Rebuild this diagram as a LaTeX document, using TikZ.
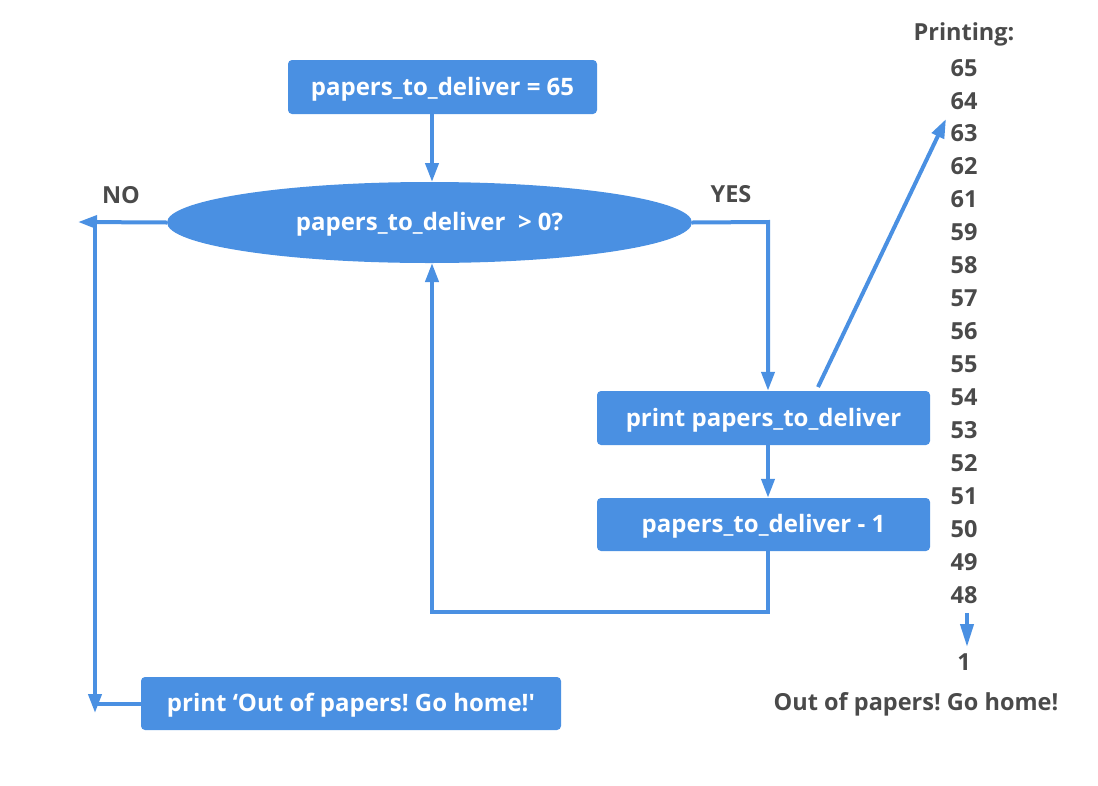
\documentclass[tikz,border=0pt]{standalone}
\usepackage{fontspec}
\setmainfont{Open Sans}[BoldFont={* Bold},Ligatures=TeXOff]
\frenchspacing
\usetikzlibrary{shapes.geometric,arrows.meta}
\definecolor{fblue}{HTML}{4A90E2}
\definecolor{ftext}{HTML}{4A4A4A}
\tikzset{
  flowbox/.style={draw=none,fill=fblue,rounded corners=4pt,text=white,font=\fontsize{24}{28}\selectfont\bfseries,inner sep=0pt,text height=20pt,text depth=4pt},
  flowell/.style={ellipse,draw=none,fill=fblue,text=white,font=\fontsize{24}{28}\selectfont\bfseries,inner sep=0pt,text height=20pt,text depth=4pt},
  conn/.style={draw=fblue,line width=4pt,-{Triangle[length=19pt,width=13pt]}},
  plain/.style={draw=fblue,line width=4pt},
  lbl/.style={text=ftext,font=\fontsize{23.5}{28}\selectfont\bfseries,yshift=-2pt},
}
\begin{document}
\begin{tikzpicture}[x=1pt,y=-1pt]
\useasboundingbox (0,0) rectangle (1098,785);
\node[flowbox,minimum width=309pt,minimum height=54pt] (start) at (442.5,87) {papers\_to\_deliver = 65};
\node[flowell,minimum width=525pt,minimum height=81pt] (cond) at (429.5,222.5) {papers\_to\_deliver\ \ > 0?};
\node[flowbox,minimum width=333pt,minimum height=54pt] (pr) at (763.5,418) {print papers\_to\_deliver};
\node[flowbox,minimum width=333pt,minimum height=53pt] (dec) at (763.5,524.5) {papers\_to\_deliver - 1};
\node[flowbox,minimum width=420pt,minimum height=53pt] (out) at (351,703.5) {print ‘Out of papers! Go home!'};
\node[lbl] (no) at (121,193) {NO};
\node[lbl] (yes) at (731,192) {YES};
\node[lbl] (ptitle) at (964,32) {Printing:};
\foreach \n/\yy in {65/66,64/99,63/131,62/164,61/197,59/230,58/263,57/296,56/329,55/362,54/395,53/428,52/461,51/494,50/527,49/560,48/593}
  \node[lbl] (n\n) at (964,\yy) {\n};
\node[lbl] (n1) at (964,660) {1};
\node[lbl] (final) at (916,702) {Out of papers! Go home!};
\coordinate (noend) at (78,222);
\coordinate (ltop) at (95,222);
\coordinate (lbot) at (95,713);
\coordinate (rc) at (768,222);
\coordinate (lpb) at (768,612);
\coordinate (lpl) at (432,612);
\coordinate (diagA) at (818,387);
\coordinate (diagB) at (946,119);
\coordinate (dA) at (967,613);
\coordinate (dB) at (967,647);
\draw[conn] (start.south -| 432,0) -- (432,182);
\draw[conn] (cond.west) -- (noend);
\draw[conn] (ltop) -- (lbot);
\draw[plain] (out.west) -- (out.west -| ltop);
\draw[conn] (cond.east) -- (rc) -- (pr.north -| rc);
\draw[conn] (pr.south -| rc) -- (dec.north -| rc);
\draw[conn] (dec.south -| rc) -- (lpb) -- (lpl) -- (432,263);
\draw[conn] (diagA) -- (diagB);
\draw[conn,-{Triangle[length=23pt,width=13pt]}] (dA) -- (dB);
\end{tikzpicture}
\end{document}
